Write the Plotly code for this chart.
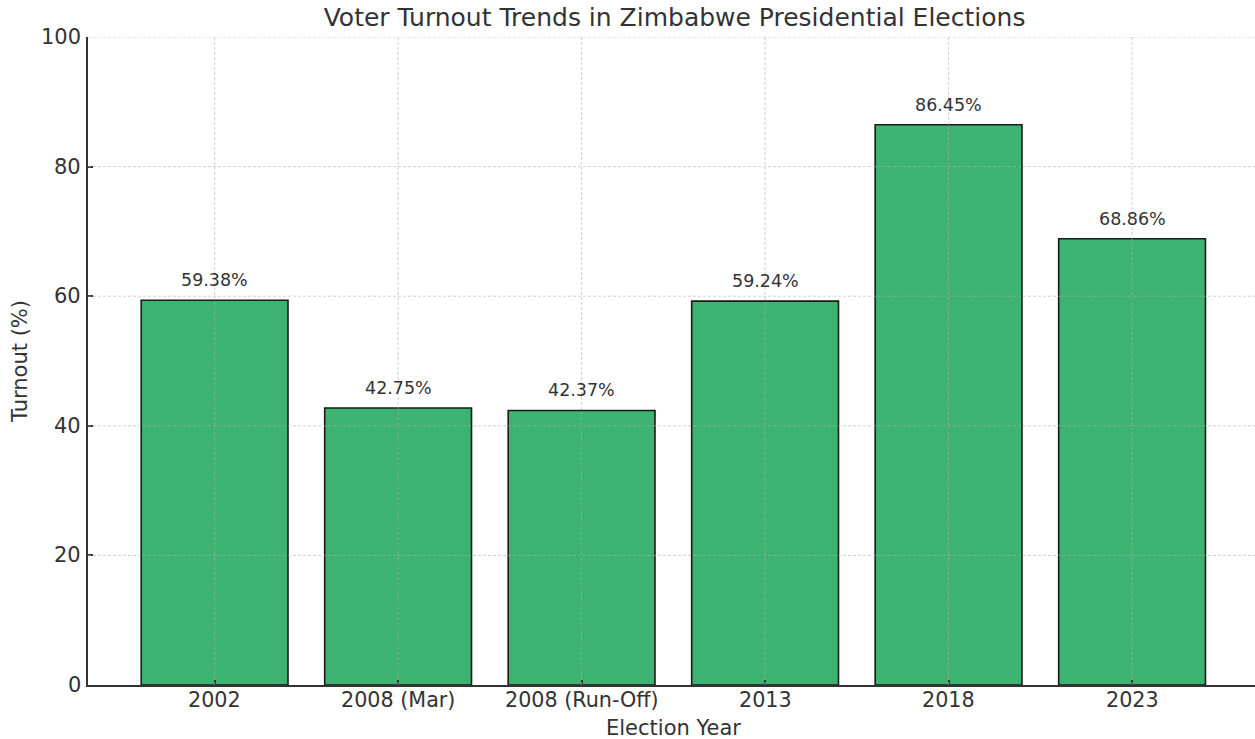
import plotly.graph_objects as go

categories = ["2002", "2008 (Mar)", "2008 (Run-Off)", "2013", "2018", "2023"]
turnout = [59.38, 42.75, 42.37, 59.24, 86.45, 68.86]
y_ticks = [0, 20, 40, 60, 80, 100]
labels = [f"{v:.2f}%" for v in turnout]

FONT = "DejaVu Sans"
TXT = "#333333"
GRID = "rgba(175,175,175,0.6)"
fig = go.Figure()
fig.add_trace(go.Bar(
    x=categories, y=turnout, width=0.8,
    marker=dict(color="#3CB371", line=dict(color="#1a1a1a", width=1.6)),
    hoverinfo="skip",
))

shapes = []
for i, c in enumerate(categories):
    shapes.append(dict(type="line", xref="x", yref="paper", x0=i, x1=i, y0=0, y1=1,
                       line=dict(color=GRID, width=1, dash="3px,2px"), layer="above"))
for t in y_ticks[1:]:
    shapes.append(dict(type="line", xref="paper", yref="y", x0=0, x1=1, y0=t, y1=t,
                       line=dict(color=GRID, width=1, dash="3px,2px"), layer="above"))

annotations = [dict(x=i, y=v, text=l, showarrow=False, yanchor="bottom", yshift=8,
                    font=dict(family=FONT, size=17.5, color=TXT))
               for i, (v, l) in enumerate(zip(turnout, labels))]
# x tick labels
annotations += [dict(x=i, y=0, xref="x", yref="paper", text=c, showarrow=False,
                     yanchor="top", yshift=-1, font=dict(family=FONT, size=20.7, color=TXT))
                for i, c in enumerate(categories)]
# y tick labels
annotations += [dict(x=0, y=t, xref="paper", yref="y", text=str(t), showarrow=False,
                     xanchor="right", xshift=-5, font=dict(family=FONT, size=21, color=TXT))
                for t in y_ticks]
# axis titles
annotations += [
    dict(x=0.502, y=-0.0664, xref="paper", yref="paper", text="Election Year", showarrow=False,
         xanchor="center", yanchor="middle", font=dict(family=FONT, size=21, color=TXT)),
    dict(x=-0.0583, y=0.5, xref="paper", yref="paper", text="Turnout (%)", showarrow=False,
         textangle=-90, xanchor="center", yanchor="middle", font=dict(family=FONT, size=21, color=TXT)),
]

fig.update_layout(
    width=1255, height=739,
    margin=dict(l=88, r=0, t=37, b=54),
    paper_bgcolor="white", plot_bgcolor="white",
    title=dict(text="Voter Turnout Trends in Zimbabwe Presidential Elections",
               x=0.5375, xanchor="center", y=0.976, yanchor="middle",
               font=dict(family=FONT, size=25, color=TXT)),
    font=dict(family=FONT, color=TXT),
    shapes=shapes, annotations=annotations,
    showlegend=False,
)
fig.update_xaxes(
    type="category",
    range=[-0.69, 5.67], showgrid=False, showline=True, linecolor=TXT, linewidth=1.5,
    ticks="inside", ticklen=5, tickcolor=TXT, tickwidth=1.5, showticklabels=False,
)
fig.update_yaxes(
    range=[0, 100], tickvals=y_ticks, showgrid=False, showline=True, linecolor=TXT, linewidth=1.5,
    ticks="inside", ticklen=5, tickcolor=TXT, tickwidth=1.5, zeroline=False, showticklabels=False,
)
fig.write_html("out.html")
